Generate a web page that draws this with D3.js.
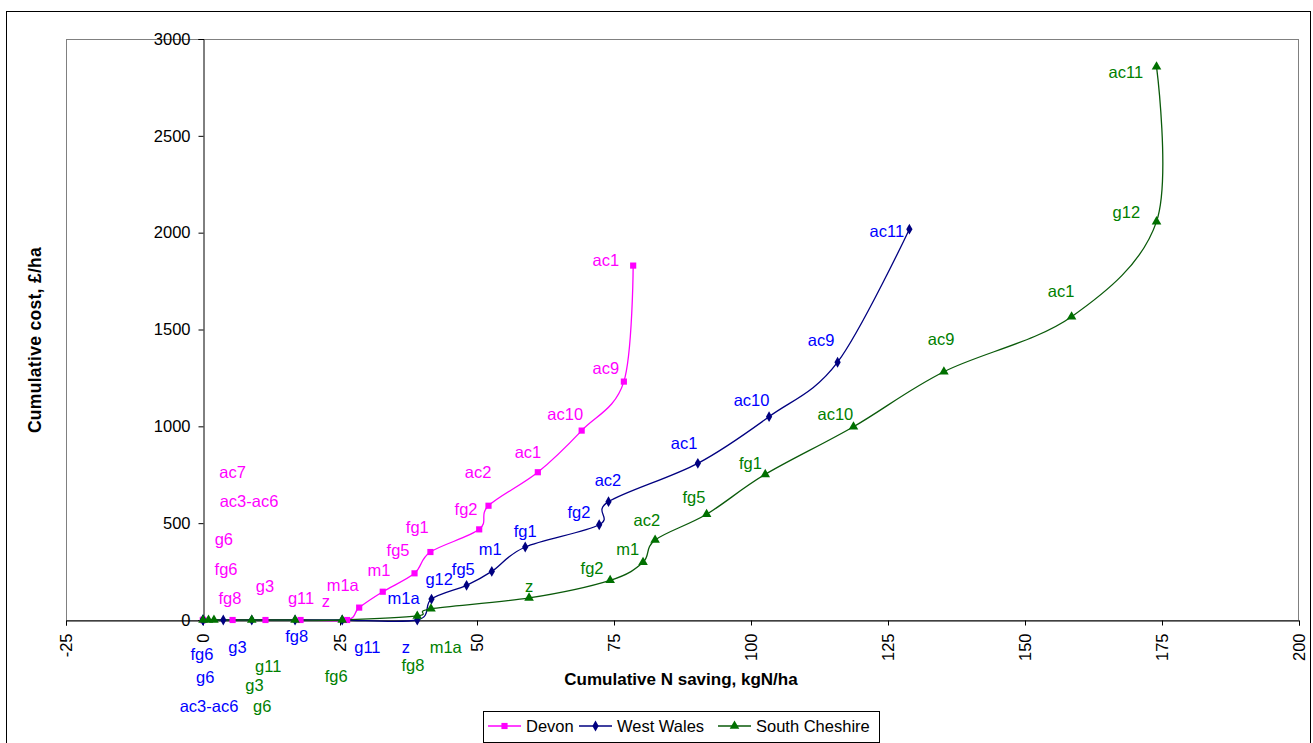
<!DOCTYPE html>
<html><head><meta charset="utf-8">
<script src="https://cdn.jsdelivr.net/npm/d3@7"></script>
<style>
body{margin:0;background:#fff}
svg{display:block}
text{font-family:"Liberation Sans",Arial,Helvetica,sans-serif}
</style>
</head><body>
<svg id="chart" width="1313" height="743"></svg>
<script>
// ---------- data ----------
const seriesNames = ["Devon", "West Wales", "South Cheshire"];

const devonX = [0, 0, 0, 0, 5.4, 11.4, 17.8, 26.3, 28.5, 32.8, 38.6, 41.5, 50.4, 52.1, 61.1, 69.1, 76.8, 78.5];
const devonY = [0, 0, 0, 0, 0, 0, 0, 0, 64, 146, 241, 351, 468, 590, 763, 978, 1231, 1830];

const walesX = [0, 0, 0, 3.7, 8.9, 16.8, 25.4, 39.1, 41.7, 48.1, 52.7, 58.8, 72.3, 74.0, 90.3, 103.3, 115.8, 128.9];
const walesY = [0, 0, 0, 0, 0, 0, 0, 0, 108, 179, 251, 377, 492, 611, 809, 1050, 1331, 2018];

const cheshireX = [0, 1, 2, 8.9, 16.8, 25.4, 39.1, 41.6, 59.5, 74.3, 80.3, 82.5, 91.9, 102.6, 118.7, 135.2, 158.5, 174.0, 174.0];
const cheshireY = [0, 0, 0, 0, 0, 0, 21, 58, 114, 205, 298, 413, 546, 752, 998, 1282, 1566, 2057, 2857];

// data labels: [text, x value, y value] (label centre, in data units)
const devonLabels = [
  ["ac1", 73.5, 1859], ["ac9", 73.5, 1300], ["ac10", 66.1, 1064], ["ac1", 59.3, 866],
  ["ac2", 50.2, 763], ["fg2", 48.0, 572], ["fg1", 39.1, 478], ["fg5", 35.6, 361],
  ["m1", 32.1, 258], ["m1a", 25.5, 180], ["z", 22.4, 97], ["g11", 17.9, 112],
  ["g3", 11.3, 172], ["fg8", 4.9, 115], ["fg6", 4.2, 262], ["g6", 3.8, 417],
  ["ac3-ac6", 8.4, 614], ["ac7", 5.4, 761]
];
const walesLabels = [
  ["ac11", 124.8, 2010], ["ac9", 112.8, 1446], ["ac10", 100.1, 1136], ["ac1", 87.8, 912],
  ["ac2", 73.9, 723], ["fg2", 68.6, 559], ["fg1", 58.8, 456], ["m1", 52.4, 365],
  ["fg5", 47.5, 262], ["g12", 43.1, 210], ["m1a", 36.6, 112], ["z", 37.0, -138],
  ["g11", 30.0, -138], ["fg8", 17.1, -86], ["g3", 6.3, -138], ["fg6", -0.2, -177],
  ["g6", 0.4, -293], ["ac3-ac6", 1.1, -443]
];
const cheshireLabels = [
  ["ac11", 168.4, 2828], ["g12", 168.5, 2108], ["ac1", 156.6, 1700], ["ac9", 134.7, 1448],
  ["ac10", 115.4, 1062], ["fg1", 99.9, 812], ["fg5", 89.6, 632], ["ac2", 81.0, 513],
  ["m1", 77.5, 365], ["fg2", 71.0, 267], ["z", 59.5, 176], ["m1a", 44.3, -138],
  ["fg8", 38.3, -232], ["fg6", 24.3, -289], ["g11", 11.9, -238], ["g3", 9.4, -339],
  ["g6", 10.8, -443]
];

const xTicks = [-25, 0, 25, 50, 75, 100, 125, 150, 175, 200];
const yTicks = [0, 500, 1000, 1500, 2000, 2500, 3000];
const xTitle = "Cumulative N saving, kgN/ha";
const yTitle = "Cumulative cost, £/ha";

// ---------- layout ----------
const plot = {left: 66, right: 1299, top: 39, bottom: 620};
const x = d3.scaleLinear().domain([-25, 200]).range([plot.left, plot.right]);
const y = d3.scaleLinear().domain([0, 3000]).range([plot.bottom, plot.top]);

const styles = [
  {line: "#FF00FF", marker: "#FF00FF", label: "#FF00FF", symbol: d3.symbolSquare, size: 38},
  {line: "#000080", marker: "#000080", label: "#0000FF", symbol: d3.symbolDiamond, size: 34},
  {line: "#0A5A0A", marker: "#007000", label: "#008000", symbol: d3.symbolTriangle, size: 40}
];

const series = [
  {name: seriesNames[0], pts: devonX.map((v, i) => [v, devonY[i]]), labels: devonLabels},
  {name: seriesNames[1], pts: walesX.map((v, i) => [v, walesY[i]]), labels: walesLabels},
  {name: seriesNames[2], pts: cheshireX.map((v, i) => [v, cheshireY[i]]), labels: cheshireLabels}
];

const svg = d3.select("#chart");

// outer chart border
svg.append("rect").attr("x", 6.5).attr("y", 11.5).attr("width", 1304).attr("height", 780)
  .attr("fill", "#fff").attr("stroke", "#000").attr("stroke-width", 1);

// plot-area border
svg.append("rect").attr("x", plot.left + 0.5).attr("y", plot.top + 0.5)
  .attr("width", plot.right - plot.left - 1).attr("height", plot.bottom - plot.top)
  .attr("fill", "none").attr("stroke", "#808080").attr("stroke-width", 1);

// y axis at x = 0
const yAxis = d3.axisLeft(y).tickValues(yTicks).tickSize(5).tickPadding(8).tickFormat(d => String(d));
const gy = svg.append("g").attr("transform", `translate(${Math.round(x(0)) + 0.5},0)`).call(yAxis);
gy.select(".domain").attr("stroke", "#000");
gy.selectAll(".tick line").attr("stroke", "#000");
gy.selectAll(".tick text").attr("font-size", "16.5px").attr("fill", "#000")
  .attr("font-family", '"Liberation Sans",Arial,sans-serif');

// x axis at y = 0
const xAxis = d3.axisBottom(x).tickValues(xTicks).tickSize(5).tickFormat(d => String(d));
const gx = svg.append("g").attr("transform", `translate(0,${Math.round(y(0)) + 0.5})`).call(xAxis);
gx.select(".domain").attr("stroke", "#000");
gx.selectAll(".tick line").attr("stroke", "#000");
gx.selectAll(".tick text")
  .attr("font-size", "16.5px").attr("fill", "#000")
  .attr("font-family", '"Liberation Sans",Arial,sans-serif')
  .attr("text-anchor", "end")
  .attr("transform", "translate(0,13) rotate(-90)")
  .attr("x", 0).attr("y", 0).attr("dy", "0.35em");

// axis titles
svg.append("text").attr("x", 681).attr("y", 685).attr("text-anchor", "middle")
  .attr("font-size", "17px").attr("font-weight", "bold").text(xTitle);
svg.append("text").attr("transform", "translate(41,340) rotate(-90)").attr("text-anchor", "middle")
  .attr("font-size", "17.5px").attr("font-weight", "bold").attr("letter-spacing", "0.3px").text(yTitle);

// lines
const line = d3.line().x(d => x(d[0])).y(d => y(d[1])).curve(d3.curveCatmullRom.alpha(0));
series.forEach((s, i) => {
  svg.append("path").datum(s.pts).attr("d", line)
    .attr("fill", "none").attr("stroke", styles[i].line).attr("stroke-width", 1.3);
});
// markers
series.forEach((s, i) => {
  const sym = d3.symbol().type(styles[i].symbol).size(styles[i].size);
  svg.append("g").selectAll("path").data(s.pts).join("path")
    .attr("d", sym)
    .attr("transform", d => `translate(${x(d[0])},${y(d[1])})`)
    .attr("fill", styles[i].marker).attr("stroke", "none");
});
// data labels
series.forEach((s, i) => {
  svg.append("g").selectAll("text").data(s.labels).join("text")
    .attr("x", d => x(d[1])).attr("y", d => y(d[2])).attr("dy", "0.35em")
    .attr("text-anchor", "middle").attr("font-size", "16.5px")
    .attr("fill", styles[i].label).text(d => d[0]);
});

// legend
const lg = svg.append("g");
lg.append("rect").attr("x", 483.5).attr("y", 711.5).attr("width", 396).attr("height", 31)
  .attr("fill", "#fff").attr("stroke", "#000").attr("stroke-width", 1);
const legendX = [488, 579, 718];
series.forEach((s, i) => {
  const g = lg.append("g").attr("transform", `translate(${legendX[i]},726)`);
  g.append("line").attr("x1", 0).attr("x2", 33).attr("y1", 0).attr("y2", 0)
    .attr("stroke", styles[i].line).attr("stroke-width", 1.3);
  g.append("path").attr("d", d3.symbol().type(styles[i].symbol).size(styles[i].size)())
    .attr("transform", "translate(16.5,0)").attr("fill", styles[i].marker);
  g.append("text").attr("x", 38).attr("y", 0).attr("dy", "0.35em")
    .attr("font-size", "16.5px").attr("fill", "#000").text(s.name);
});
</script>
</body></html>
